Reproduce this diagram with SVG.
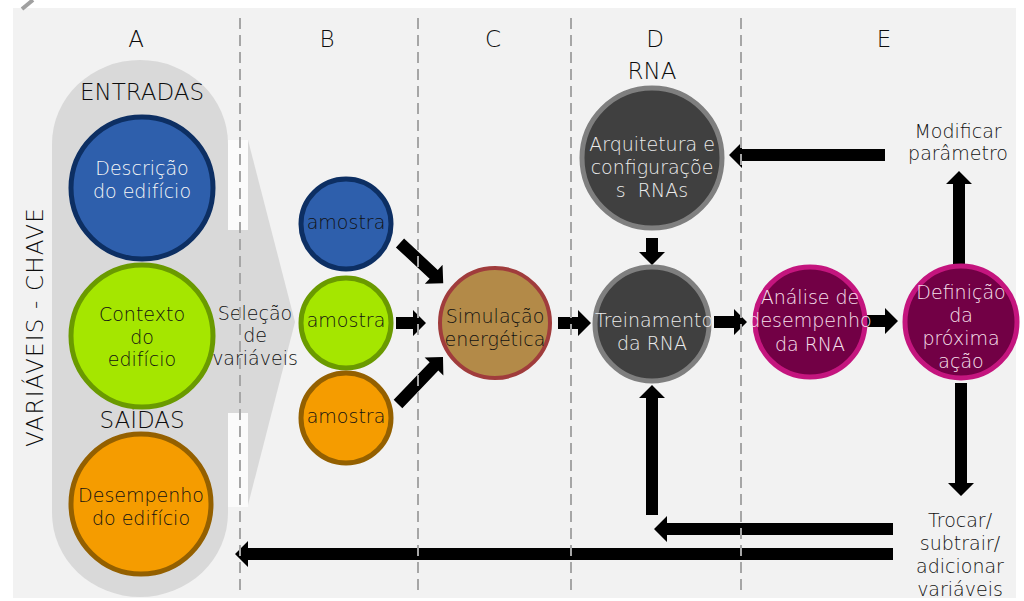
<svg xmlns="http://www.w3.org/2000/svg" width="1024" height="601" viewBox="0 0 1024 601">
  <style>
    text { font-family: "DejaVu Sans", "Liberation Sans", sans-serif; font-weight: 200; text-anchor: middle; }
    .hdr { font-size: 23px; fill: #0d0d0d; }
    .lbl { font-size: 19px; fill: #111111; }
    .wht { font-size: 19px; fill: #f7f7f7; }
    .gry { font-size: 19px; fill: #ececec; }
    .pnk { font-size: 19px; fill: #f8e0ee; }
    .arrow { fill: #000000; }
    .divider { stroke: #a6a6a6; stroke-width: 2; stroke-dasharray: 11 6; fill: none; }
    .blue { fill: #2e5fac; stroke: #0d2f63; stroke-width: 5; }
    .lime { fill: #a5e600; stroke: #6a9a00; stroke-width: 5; }
    .orng { fill: #f59c00; stroke: #946000; stroke-width: 5; }
    .sim { fill: #b38a48; stroke: #a03c3c; stroke-width: 4; }
    .dark { fill: #404040; stroke: #7f7f7f; stroke-width: 5; }
    .mag { fill: #720045; stroke: #c4157e; stroke-width: 5; }
  </style>

  <!-- background panel -->
  <rect x="13" y="8" width="1003" height="590" fill="#f2f2f2"/>
  <line x1="22" y1="9" x2="33" y2="0" stroke="#a0a0a0" stroke-width="4"/>

  <!-- column A: key variables band and selection chevron -->
  <g id="band">
    <rect x="52" y="60" width="176" height="537" rx="88" ry="84" fill="#d9d9d9"/>
    <rect x="226" y="228" width="24" height="187" fill="#d9d9d9"/>
    <polygon points="248,140 295,322 248,505" fill="#d9d9d9"/>
    <rect x="228" y="140" width="20" height="90" fill="#fbfbfb"/>
    <rect x="228" y="413" width="20" height="94" fill="#fbfbfb"/>
  </g>

  <!-- column headers -->
  <g id="headers">
    <text class="hdr" x="136" y="47">A</text>
    <text class="hdr" x="327" y="47">B</text>
    <text class="hdr" x="493" y="47">C</text>
    <text class="hdr" x="655" y="47">D</text>
    <text class="hdr" x="884" y="47">E</text>
    <text class="hdr" x="142" y="100">ENTRADAS</text>
    <text class="hdr" x="142" y="428">SAÍDAS</text>
    <text class="hdr" x="652" y="79" font-size="22">RNA</text>
    <text class="hdr" transform="translate(43,327) rotate(-90)" letter-spacing="1.2">VARIÁVEIS - CHAVE</text>
  </g>

  <!-- connectors -->
  <g id="connectors">
    <path class="arrow" transform="translate(400,243) rotate(42.9)" d="M0 -6 H46 V-13 L59 0 L46 13 V6 H0 Z"/>
    <path class="arrow" d="M396 317 H413 V310 L426 323 L413 336 V329 H396 Z"/>
    <path class="arrow" transform="translate(398,404) rotate(-46.2)" d="M0 -6 H52 V-13 L65 0 L52 13 V6 H0 Z"/>
    <path class="arrow" d="M558 317 H578 V310 L591 323 L578 336 V329 H558 Z"/>
    <path class="arrow" d="M714 316 H734 V309 L747 322 L734 335 V328 H714 Z"/>
    <path class="arrow" d="M867 315 H885 V308 L898 321 L885 334 V327 H867 Z"/>
    <path class="arrow" d="M646 238 V252 H639 L652 265 L665 252 H658 V238 Z"/>
    <path class="arrow" d="M953 264 V184 H946 L959 171 L972 184 H965 V264 Z"/>
    <path class="arrow" d="M955 383 V483 H948 L961 496 L974 483 H967 V383 Z"/>
    <path class="arrow" d="M885 149 H742 V142 L729 155 L742 168 V161 H885 Z"/>
    <path class="arrow" d="M893 523 H667 V516 L654 529 L667 542 V535 H893 Z"/>
    <path class="arrow" d="M893 548 H248 V541 L235 554 L248 567 V560 H893 Z"/>
    <path class="arrow" d="M646 515 V398 H639 L652 385 L665 398 H658 V515 Z"/>
  </g>

  <!-- column A nodes -->
  <g id="descricao">
    <circle class="blue" cx="142" cy="188" r="71"/>
    <text class="wht" x="142" y="175">Descrição</text>
    <text class="wht" x="142" y="198">do edifício</text>
  </g>
  <g id="contexto">
    <circle class="lime" cx="142" cy="336" r="71"/>
    <text class="lbl" x="142" y="321">Contexto</text>
    <text class="lbl" x="142" y="344">do</text>
    <text class="lbl" x="142" y="366">edifício</text>
  </g>
  <g id="desempenho">
    <circle class="orng" cx="141" cy="504" r="70"/>
    <text class="lbl" x="141" y="502">Desempenho</text>
    <text class="lbl" x="141" y="525">do edifício</text>
  </g>
  <g id="selecao">
    <text class="lbl" x="255" y="320">Seleção</text>
    <text class="lbl" x="255" y="342">de</text>
    <text class="lbl" x="255" y="365">variáveis</text>
  </g>

  <!-- column B nodes -->
  <g id="amostra-1">
    <circle class="blue" cx="346" cy="224" r="45"/>
    <text class="lbl" x="346" y="229">amostra</text>
  </g>
  <g id="amostra-2">
    <circle class="lime" cx="346" cy="323" r="45"/>
    <text class="lbl" x="346" y="327">amostra</text>
  </g>
  <g id="amostra-3">
    <circle class="orng" cx="346" cy="418" r="45"/>
    <text class="lbl" x="346" y="423">amostra</text>
  </g>

  <!-- column C node -->
  <g id="simulacao">
    <circle class="sim" cx="495" cy="323" r="55"/>
    <text class="lbl" x="495" y="323">Simulação</text>
    <text class="lbl" x="495" y="346">energética</text>
  </g>

  <!-- column D nodes -->
  <g id="arquitetura">
    <circle class="dark" cx="652" cy="158" r="70"/>
    <text class="gry" x="652" y="151">Arquitetura e</text>
    <text class="gry" x="652" y="174">configuraçõe</text>
    <text class="gry" x="652" y="197" xml:space="preserve">s  RNAs</text>
  </g>
  <g id="treinamento">
    <circle class="dark" cx="652" cy="324" r="57"/>
    <text class="gry" x="654" y="327">Treinamento</text>
    <text class="gry" x="652" y="350">da RNA</text>
  </g>

  <!-- column E nodes -->
  <g id="analise">
    <circle class="mag" cx="810" cy="322" r="55"/>
    <text class="pnk" x="810" y="304">Análise de</text>
    <text class="pnk" x="810" y="327">desempenho</text>
    <text class="pnk" x="810" y="351">da RNA</text>
  </g>
  <g id="definicao">
    <circle class="mag" cx="961" cy="322" r="56"/>
    <text class="pnk" x="961" y="299">Definição</text>
    <text class="pnk" x="961" y="322">da</text>
    <text class="pnk" x="961" y="345">próxima</text>
    <text class="pnk" x="961" y="368">ação</text>
  </g>
  <g id="modificar">
    <text class="lbl" x="958" y="138">Modificar</text>
    <text class="lbl" x="958" y="160">parâmetro</text>
  </g>
  <g id="trocar">
    <text class="lbl" x="960" y="527">Trocar/</text>
    <text class="lbl" x="960" y="550">subtrair/</text>
    <text class="lbl" x="960" y="573">adicionar</text>
    <text class="lbl" x="960" y="596">variáveis</text>
  </g>

  <!-- column dividers -->
  <g id="dividers">
    <line class="divider" x1="240" y1="18" x2="240" y2="596"/>
    <line class="divider" x1="418" y1="18" x2="418" y2="596"/>
    <line class="divider" x1="571" y1="18" x2="571" y2="596"/>
    <line class="divider" x1="741" y1="18" x2="741" y2="596"/>
  </g>
</svg>
